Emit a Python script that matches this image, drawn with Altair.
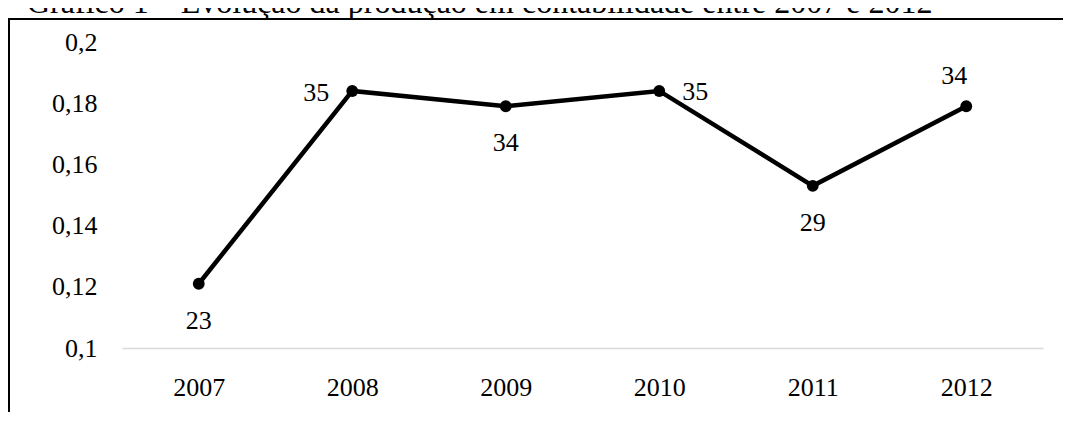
import altair as alt
import pandas as pd

TITLE = "Gráfico 1 – Evolução da produção em contabilidade entre 2007 e 2012"
years = ["2007", "2008", "2009", "2010", "2011", "2012"]
ratios = [0.121, 0.184, 0.179, 0.184, 0.153, 0.179]
counts = [23, 35, 34, 35, 29, 34]
label_pos = ["below", "left", "below", "right", "below", "above"]
y_ticks = [0.1, 0.12, 0.14, 0.16, 0.18, 0.2]

FONT = "Liberation Serif"

df = pd.DataFrame({"year": years, "ratio": ratios, "count": counts, "pos": label_pos})

x_enc = alt.X(
    "year:O",
    sort=years,
    scale=alt.Scale(type="point", padding=0.5),
    axis=alt.Axis(
        title=None,
        labelAngle=0,
        ticks=False,
        tickSize=0,
        domain=True,
        domainColor="#d9d9d9",
        domainWidth=1.5,
        grid=False,
        labelFont=FONT,
        labelFontSize=26,
        labelColor="#000000",
        labelPadding=26,
    ),
)
y_enc = alt.Y(
    "ratio:Q",
    scale=alt.Scale(domain=[0.1, 0.2], nice=False, zero=False),
    axis=alt.Axis(
        title=None,
        values=y_ticks,
        labelExpr="replace(format(datum.value, '.2~f'), '.', ',')",
        ticks=False,
        tickSize=0,
        domain=False,
        grid=False,
        labelFont=FONT,
        labelFontSize=26,
        labelColor="#000000",
        labelPadding=25,
    ),
)

base = alt.Chart(df)

one = pd.DataFrame({"t": [TITLE]})
frame = alt.Chart(one).mark_rect(filled=False, stroke="#000000", strokeWidth=2).encode(
    x=alt.value(-113), x2=alt.value(2000), y=alt.value(-23), y2=alt.value(1000)
)
title = alt.Chart(one).mark_text(
    font=FONT, fontSize=32, align="left", baseline="alphabetic", color="#000000"
).encode(x=alt.value(-95), y=alt.value(-29), text="t:N")

line = base.mark_line(color="#000000", strokeWidth=4.5).encode(x=x_enc, y=y_enc)
pts = base.mark_circle(color="#000000", size=140, opacity=1).encode(x=x_enc, y=y_enc)

txt_kw = dict(font=FONT, fontSize=26, color="#000000")
below = base.transform_filter(alt.datum.pos == "below").mark_text(
    baseline="middle", align="center", dy=37, **txt_kw
).encode(x=x_enc, y=y_enc, text="count:N")
above = base.transform_filter(alt.datum.pos == "above").mark_text(
    baseline="middle", align="center", dy=-30, dx=-12, **txt_kw
).encode(x=x_enc, y=y_enc, text="count:N")
left = base.transform_filter(alt.datum.pos == "left").mark_text(
    baseline="middle", align="right", dx=-23, dy=2, **txt_kw
).encode(x=x_enc, y=y_enc, text="count:N")
right = base.transform_filter(alt.datum.pos == "right").mark_text(
    baseline="middle", align="left", dx=23, dy=1, **txt_kw
).encode(x=x_enc, y=y_enc, text="count:N")

chart = alt.layer(frame, title, line, pts, below, above, left, right).properties(
    width=921,
    height=306,
    autosize=alt.AutoSizeParams(type="none"),
    padding={"left": 114, "top": 34, "right": 20, "bottom": 64},
    background="#ffffff",
).configure_view(stroke=None)

chart.save("out.html", embed_options={"renderer": "svg", "actions": False})
